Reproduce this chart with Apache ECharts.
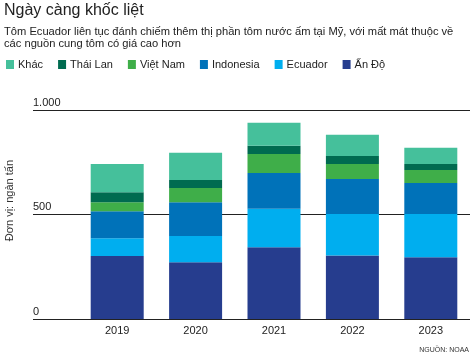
<!DOCTYPE html>
<html><head><meta charset="utf-8">
<script src="https://cdn.jsdelivr.net/npm/echarts@6/dist/echarts.min.js"></script>
<style>html,body{margin:0;padding:0;background:#fff}#c{width:475px;height:358px}</style>
</head><body><div id="c"></div>
<script>
const years = ['2019','2020','2021','2022','2023'];
const anDo = [301, 271, 343, 304, 295];
const ecuador = [85, 126, 184, 198, 207];
const indonesia = [130, 162, 172, 168, 149];
const vietNam = [43, 68, 91, 72, 62];
const thaiLan = [48, 38, 39, 38, 29];
const khac = [135, 130, 110, 101, 77];
const yTicks = [0, 500, 1000];
const yTickLabels = {0: '0', 500: '500', 1000: '1.000'};

const FONT = 'Liberation Sans';
const seriesDefs = [
  ['Ấn Độ', anDo, '#263d8e'],
  ['Ecuador', ecuador, '#00aeef'],
  ['Indonesia', indonesia, '#0072b9'],
  ['Việt Nam', vietNam, '#3fae49'],
  ['Thái Lan', thaiLan, '#006b50'],
  ['Khác', khac, '#45c09b']
];

const chart = echarts.init(document.getElementById('c'), null, {renderer: 'canvas'});
chart.setOption({
  animation: false,
  textStyle: {fontFamily: FONT},
  title: [
    {text: 'Ngày càng khốc liệt', left: 4, top: 3, padding: 0, textStyle: {fontFamily: FONT, fontSize: 16, fontWeight: 'normal', color: '#222'}},
    {text: 'Tôm Ecuador liên tục đánh chiếm thêm thị phần tôm nước ấm tại Mỹ, với mất mát thuộc về\ncác nguồn cung tôm có giá cao hơn', left: 4, top: 26, padding: 0,
     textStyle: {fontFamily: FONT, fontSize: 11.15, fontWeight: 'normal', color: '#222', lineHeight: 12}},
    {text: 'NGUỒN: NOAA', right: 6, top: 347, padding: 0, textStyle: {fontFamily: FONT, fontSize: 7, fontWeight: 'normal', color: '#333'}}
  ],
  legend: {
    left: 6, top: 59, padding: 0, itemWidth: 8, itemHeight: 9, itemGap: 15,
    icon: 'rect',
    data: ['Khác', 'Thái Lan', 'Việt Nam', 'Indonesia', 'Ecuador', 'Ấn Độ'],
    textStyle: {fontFamily: FONT, fontSize: 11, color: '#222', padding: [0, 0, 0, -1]}
  },
  graphic: [{
    type: 'text', left: 4, top: 160, rotation: Math.PI / 2,
    style: {text: 'Đơn vị: ngàn tấn', font: '11px "Liberation Sans"', fill: '#333'}
  }],
  grid: [
    {left: 33, right: 5, top: 110, bottom: 39},
    {left: 78, right: 5, top: 110, bottom: 39}
  ],
  xAxis: [
    {gridIndex: 0, type: 'value', show: false, min: 0, max: 1},
    {gridIndex: 1, type: 'category', data: years,
     axisLine: {show: false}, axisTick: {show: false},
     axisLabel: {margin: 6, fontFamily: FONT, fontSize: 11, color: '#222'}}
  ],
  yAxis: [
    {gridIndex: 0, type: 'value', min: 0, max: 1000, interval: 500,
     axisLine: {show: false}, axisTick: {show: false},
     splitLine: {lineStyle: {color: '#222', width: 1}},
     axisLabel: {inside: true, margin: 0, verticalAlign: 'bottom', align: 'left', padding: [0, 0, 2, 0],
       fontFamily: FONT, fontSize: 11, color: '#222',
       formatter: v => yTickLabels[v] !== undefined ? yTickLabels[v] : ''}},
    {gridIndex: 1, type: 'value', min: 0, max: 1000, show: false}
  ],
  series: seriesDefs.map(([name, data, color]) => ({
    name, type: 'bar', stack: 'total', xAxisIndex: 1, yAxisIndex: 1,
    barWidth: 53, data, itemStyle: {color}
  }))
});
</script></body></html>
